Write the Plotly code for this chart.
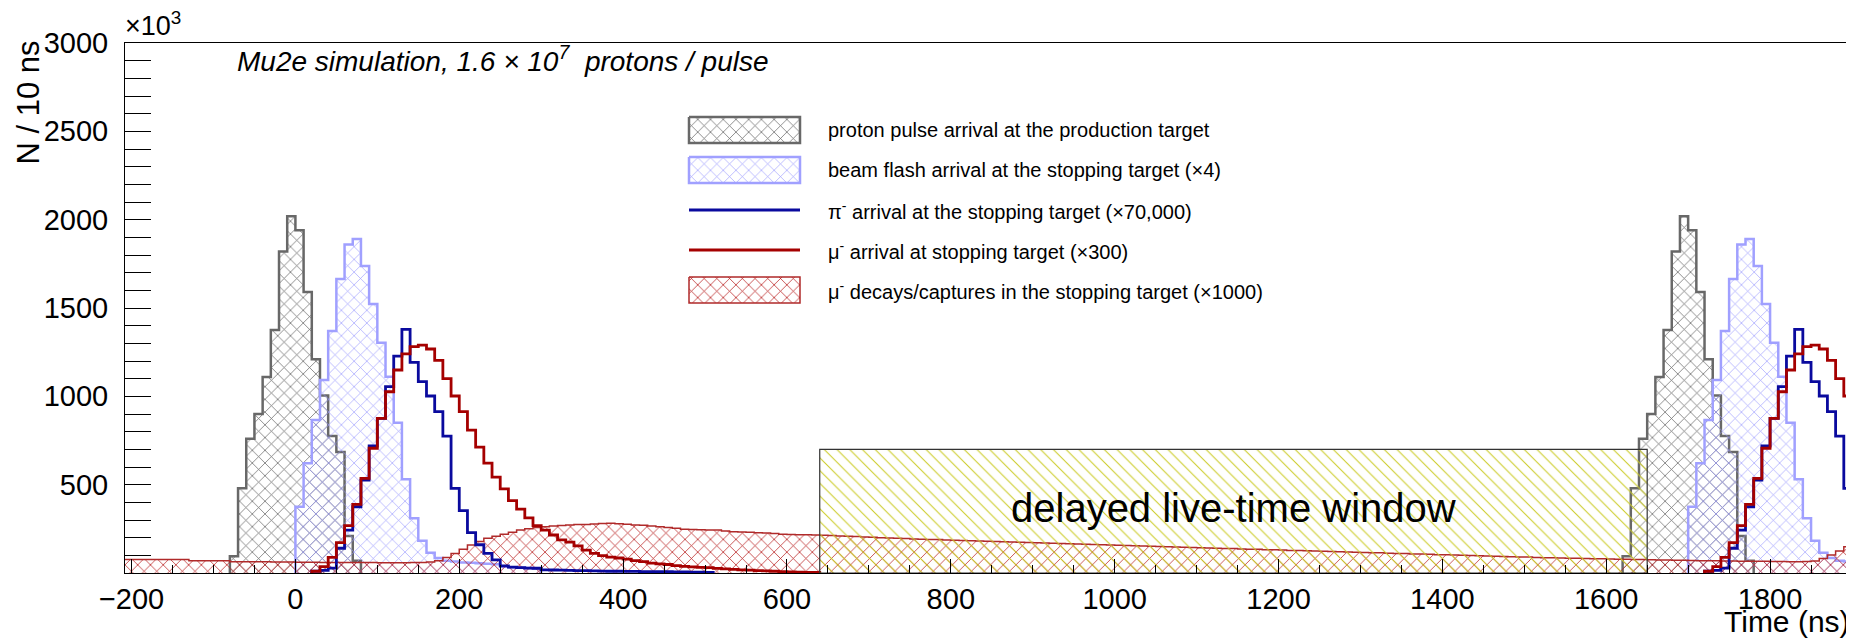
import plotly.graph_objects as go

# -----------------------------
# Data (histograms, 10 ns bins)
# -----------------------------
BIN_WIDTH = 10
PULSE_PERIOD = 1700

proton_start = -80
proton_counts = [95, 480, 760, 900, 1110, 1375, 1820, 2020, 1940, 1590, 1210, 1005, 775, 685, 210, 70]

flash_start = 0
flash_counts = [375, 621, 866, 1092, 1370, 1664, 1860, 1890, 1738, 1523, 1304, 1111, 851, 530, 310, 183,
                115, 85, 70, 65, 60, 58, 55, 52, 50, 35, 32, 30, 28, 25]

pion_start = 20
pion_counts = [10, 15, 28, 140, 243, 375, 526, 719, 875, 1055, 1228, 1379, 1192, 1083, 1002, 913, 775, 479,
               353, 228, 160, 111, 74, 40, 33, 30, 28, 27, 18, 17, 16, 15, 14, 13, 12, 11, 10, 10, 9, 9,
               8, 8, 7, 7, 6, 6, 5, 5, 4]

muon_start = 20
muon_counts = [10, 36, 89, 172, 268, 388, 536, 706, 875, 1026, 1149, 1240, 1281, 1290, 1268, 1203, 1100,
               1002, 913, 809, 713, 622, 543, 476, 410, 362, 312, 268, 243, 215, 187, 175, 153, 130, 111,
               98, 90, 85, 78, 70, 64, 56, 52, 48, 42, 38, 35, 32, 30, 26, 23, 20, 18, 16, 14, 12, 10, 8,
               6, 5, 4, 3]

decay_start = -210
decay_counts = [
    77, 77, 77, 77, 77, 77, 77, 77,
    70, 70, 70, 70, 70,
    64, 64, 63, 63, 63, 62, 62, 62, 61, 61, 61, 60, 60, 60, 60, 59, 59, 59, 58, 58, 58, 58, 59, 60, 62,
    70, 88, 110, 135, 158, 178, 196, 208, 219, 231, 243, 251, 258, 262, 266, 269, 272, 274, 275, 278,
    280, 281, 279, 276, 272, 270, 266, 262, 258, 253, 248, 246, 245, 244, 243, 238, 234, 232, 230, 228,
    227, 224, 220, 218, 217, 216, 215, 214, 212, 210, 208, 206, 204, 202, 200, 198, 196, 195,
    193, 191, 190, 189, 187, 186, 184, 183, 181, 180,
    178, 177, 176, 174, 173, 171, 170, 168, 167, 166,
    164, 163, 161, 160, 159, 157, 156, 154, 153, 152,
    150, 149, 147, 146, 145, 143, 142, 140, 139, 138,
    136, 135, 134, 132, 131, 130, 128, 127, 126, 124,
    123, 122, 120, 119, 118, 116, 115, 114, 112, 111,
    110, 108, 107, 106, 104, 103, 102, 100, 99, 98,
    96, 95, 94, 92, 91, 90, 88, 87, 86, 85,
    84, 83, 82, 81, 80, 79, 78, 78, 77, 77,
    75, 74, 73, 72, 72, 71, 70, 70, 69, 68, 68, 67, 67, 66, 66, 65, 65, 64, 64, 65,
    68, 82, 102, 125, 148,
]

window_start = 640
window_end = 1650
window_height = 700

X_TICKS = [-200, 0, 200, 400, 600, 800, 1000, 1200, 1400, 1600, 1800]
Y_TICKS = [500, 1000, 1500, 2000, 2500, 3000]

LEGEND_LABELS = [
    "proton pulse arrival at the production target",
    "beam flash arrival at the stopping target (\u00d74)",
    "\u03c0<sup>-</sup> arrival at the stopping target (\u00d770,000)",
    "\u03bc<sup>-</sup> arrival at stopping target (\u00d7300)",
    "\u03bc<sup>-</sup> decays/captures in the stopping target (\u00d71000)",
]

# -----------------------------
# Style
# -----------------------------
FONT = "Liberation Sans, Arial, Helvetica, sans-serif"
GRAY_LINE = "#686868"
GRAY_HATCH = "#6a6a6a"
FLASH_LINE = "#a0a0ff"
FLASH_HATCH = "#9c9cff"
PION_LINE = "#0a0a9e"
MUON_LINE = "#a50000"
DECAY_LINE = "#b02a2a"
DECAY_HATCH = "#b82020"
WINDOW_HATCH = "#cccc2a"

# page body has an 8px margin, so the figure is sized to end at the window edge
PAGE_OFFSET = 8
W, H = 1854 - PAGE_OFFSET, 639 - PAGE_OFFSET
# plot frame, in figure pixels
PLOT_LEFT, PLOT_RIGHT = 125 - PAGE_OFFSET, 1852 - PAGE_OFFSET
PLOT_TOP, PLOT_BOTTOM = 43 - PAGE_OFFSET, 573 - PAGE_OFFSET


def px_x(px):
    # page pixel -> paper fraction
    return (px - PAGE_OFFSET - PLOT_LEFT) / (PLOT_RIGHT - PLOT_LEFT)


def px_y(py):
    return (PLOT_BOTTOM - (py - PAGE_OFFSET)) / (PLOT_BOTTOM - PLOT_TOP)


def step_outline(start, counts, shift=0):
    left = start + shift
    edges = [left + BIN_WIDTH * i for i in range(len(counts) + 1)]
    xs = [edges[0]] + edges[:-1] + [edges[-1]]
    ys = [0] + list(counts) + [0]
    return xs, ys


def hatch(color, shape="x", size=9, solidity=0.14):
    return dict(shape=shape, fgcolor=color, bgcolor="rgba(0,0,0,0)",
                size=size, solidity=solidity, fillmode="replace")


def hist_trace(xs, ys, color, width, pattern=None):
    kw = dict(x=xs, y=ys, mode="lines",
              line=dict(color=color, width=width, shape="hv"),
              showlegend=False, hoverinfo="skip")
    if pattern is not None:
        kw.update(fill="tozeroy", fillcolor="rgba(0,0,0,0)", fillpattern=pattern)
    return go.Scatter(**kw)


fig = go.Figure()

# proton pulses
for shift in (0, PULSE_PERIOD):
    xs, ys = step_outline(proton_start, proton_counts, shift)
    fig.add_trace(hist_trace(xs, ys, GRAY_LINE, 2.5, hatch(GRAY_HATCH, solidity=0.16)))

# beam flash
for shift in (0, PULSE_PERIOD):
    xs, ys = step_outline(flash_start, flash_counts, shift)
    fig.add_trace(hist_trace(xs, ys, FLASH_LINE, 2.5, hatch(FLASH_HATCH, solidity=0.14)))

# muon decays / captures
xs, ys = step_outline(decay_start, decay_counts)
fig.add_trace(hist_trace(xs, ys, DECAY_LINE, 1.5, hatch(DECAY_HATCH, solidity=0.16)))

# pion and muon arrival
for shift in (0, PULSE_PERIOD):
    xs, ys = step_outline(pion_start, pion_counts, shift)
    fig.add_trace(hist_trace(xs, ys, PION_LINE, 2.8))
for shift in (0, PULSE_PERIOD):
    xs, ys = step_outline(muon_start, muon_counts, shift)
    fig.add_trace(hist_trace(xs, ys, MUON_LINE, 2.8))

# delayed live-time window
fig.add_trace(go.Scatter(
    x=[window_start, window_end, window_end, window_start, window_start],
    y=[0, 0, window_height, window_height, 0],
    mode="lines", fill="toself", fillcolor="rgba(0,0,0,0)",
    fillpattern=hatch(WINDOW_HATCH, shape="\\", size=9, solidity=0.12),
    line=dict(color="#333333", width=1.2),
    showlegend=False, hoverinfo="skip"
))

# -----------------------------
# Legend (drawn in page-pixel space on overlay axes)
# -----------------------------
LEG_BOX_X = (689, 800)
LEG_TEXT_X = 826
LEG_ROWS = [130, 170, 210, 250, 290]
LEG_BOX_HALF = 13

legend_styles = [
    ("box", GRAY_LINE, GRAY_HATCH, 2.5, 0.16),
    ("box", FLASH_LINE, FLASH_HATCH, 2.5, 0.14),
    ("line", PION_LINE, None, 2.8, 0),
    ("line", MUON_LINE, None, 2.8, 0),
    ("box", DECAY_LINE, DECAY_HATCH, 1.5, 0.16),
]

for (kind, lc, hc, lw, sol), row in zip(legend_styles, LEG_ROWS):
    x0, x1 = LEG_BOX_X
    if kind == "box":
        y0, y1 = row - LEG_BOX_HALF, row + LEG_BOX_HALF
        fig.add_trace(go.Scatter(
            x=[x0, x1, x1, x0, x0], y=[y0, y0, y1, y1, y0],
            mode="lines", fill="toself", fillcolor="rgba(0,0,0,0)",
            fillpattern=hatch(hc, solidity=sol), line=dict(color=lc, width=lw),
            xaxis="x2", yaxis="y2", showlegend=False, hoverinfo="skip"))
    else:
        fig.add_trace(go.Scatter(
            x=[x0, x1], y=[row, row], mode="lines",
            line=dict(color=lc, width=lw),
            xaxis="x2", yaxis="y2", showlegend=False, hoverinfo="skip"))

annotations = []
for label, row in zip(LEGEND_LABELS, LEG_ROWS):
    annotations.append(dict(
        text=label, x=px_x(LEG_TEXT_X), y=px_y(row), xref="paper", yref="paper",
        xanchor="left", yanchor="middle", showarrow=False,
        font=dict(size=20, color="black")))

annotations += [
    dict(text="<i>Mu2e simulation, 1.6 \u00d7 10<sup>7</sup>  protons / pulse</i>",
         x=px_x(235), y=px_y(59), xref="paper", yref="paper",
         xanchor="left", yanchor="middle", showarrow=False,
         font=dict(size=28, color="black")),
    dict(text="\u00d710<sup>3</sup>", x=px_x(124), y=px_y(42), xref="paper", yref="paper",
         xanchor="left", yanchor="bottom", showarrow=False, borderpad=0,
         font=dict(size=27, color="black")),
    dict(text="N / 10 ns", x=px_x(28.5), y=px_y(40), xref="paper", yref="paper",
         xanchor="center", yanchor="top", textangle=-90, showarrow=False, borderpad=0,
         font=dict(size=31, color="black")),
    dict(text="Time (ns)", x=px_x(1851), y=px_y(621), xref="paper", yref="paper",
         xanchor="right", yanchor="middle", showarrow=False, borderpad=0,
         font=dict(size=30, color="black")),
    dict(text="delayed live-time window", x=(window_start + window_end) / 2, y=window_height / 2 + 20,
         xref="x", yref="y", xanchor="center", yanchor="middle", showarrow=False,
         font=dict(size=40, color="black")),
]

# -----------------------------
# Layout
# -----------------------------
fig.update_layout(
    width=W, height=H,
    margin=dict(l=PLOT_LEFT, r=W - PLOT_RIGHT, t=PLOT_TOP, b=H - PLOT_BOTTOM),
    plot_bgcolor="white", paper_bgcolor="white",
    font=dict(family=FONT, color="black"),
    showlegend=False,
    annotations=annotations,
    xaxis=dict(
        range=[-208, 1900], tickvals=X_TICKS, ticks="inside", ticklen=14, tickwidth=1,
        tickcolor="black", tickfont=dict(size=29), ticklabelstandoff=0,
        minor=dict(dtick=50, ticklen=8, tickcolor="black", ticks="inside"),
        showgrid=False, zeroline=False, showline=True, linecolor="black", linewidth=1,
        mirror=True
    ),
    yaxis=dict(
        range=[0, 3000], tickvals=Y_TICKS, ticks="inside", ticklen=26, tickwidth=1,
        tickcolor="black", tickfont=dict(size=29), ticklabelstandoff=10,
        minor=dict(dtick=100, ticklen=26, tickcolor="black", ticks="inside"),
        showgrid=False, zeroline=False, showline=True, linecolor="black", linewidth=1,
        mirror=True
    ),
    xaxis2=dict(overlaying="x", range=[PLOT_LEFT + PAGE_OFFSET, PLOT_RIGHT + PAGE_OFFSET],
                visible=False, anchor="y2"),
    yaxis2=dict(overlaying="y", range=[PLOT_BOTTOM + PAGE_OFFSET, PLOT_TOP + PAGE_OFFSET],
                visible=False, anchor="x2"),
)

fig.write_html("out.html")
